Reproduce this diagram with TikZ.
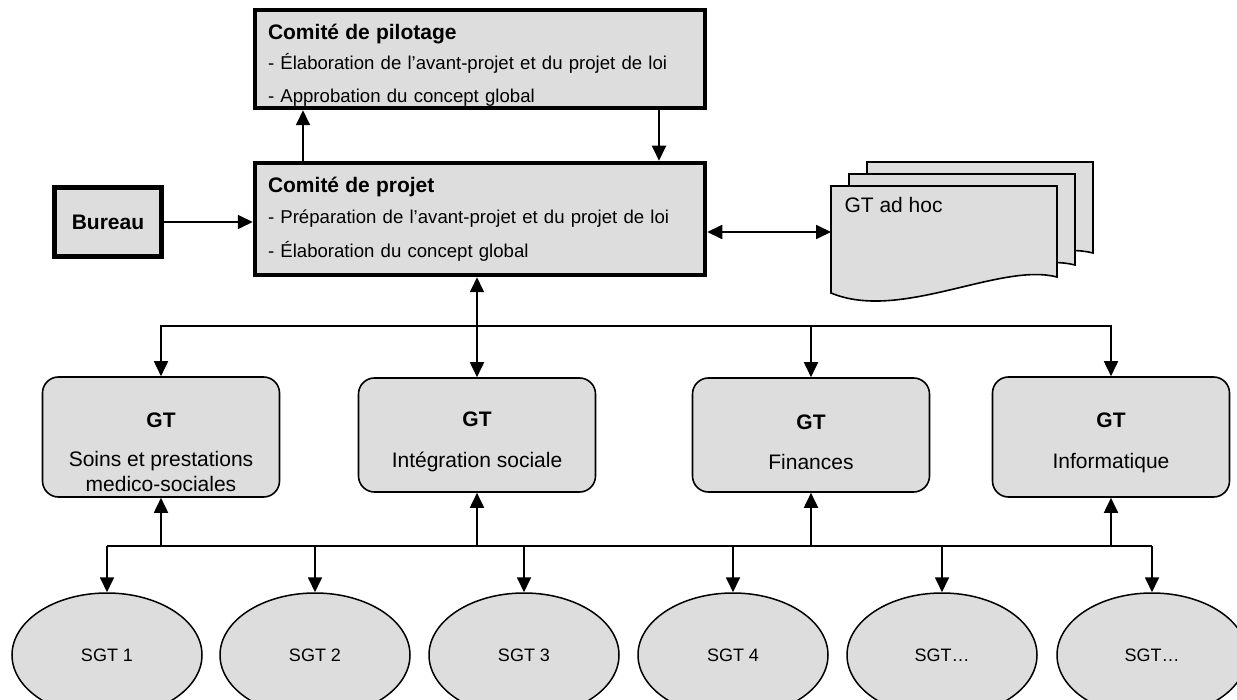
\documentclass[tikz,border=0pt]{standalone}
\usepackage{fontspec}
\setmainfont{Liberation Sans}
\usepackage{xcolor}
\usetikzlibrary{shapes.geometric, arrows.meta}
\definecolor{boxgrey}{HTML}{DDDDDD}
\newcommand{\topgap}[1]{\rule{0pt}{#1}}

\begin{document}
\begin{tikzpicture}[
    x=1pt, y=-1pt,
    comite/.style = {rectangle, draw, line width=4.5pt, fill=boxgrey,
                     minimum width=450pt, text width=424pt, align=left,
                     font=\fontsize{18.6}{23}\selectfont},
    bureaubox/.style = {rectangle, draw, line width=4.5pt, fill=boxgrey,
                     minimum width=107pt, minimum height=69pt,
                     font=\fontsize{21}{25}\selectfont\bfseries},
    gt/.style     = {rectangle, draw, rounded corners=16pt, line width=1.6pt,
                     fill=boxgrey, minimum width=237pt, inner ysep=0pt,
                     align=center, font=\fontsize{21}{25}\selectfont},
    sgt/.style    = {ellipse, draw, line width=1.5pt, fill=boxgrey,
                     minimum width=190pt, minimum height=124pt,
                     font=\fontsize{18}{22}\selectfont},
    doc/.style    = {draw, line width=1.6pt, fill=boxgrey},
    arr/.style    = {-{Triangle[width=14pt,length=15pt]}, line width=1.8pt},
    arrs/.style   = {{Triangle[width=14pt,length=15pt]}-{Triangle[width=14pt,length=15pt]},
                     line width=1.8pt},
    bus/.style    = {line width=1.8pt}
]
  \useasboundingbox (0,0) rectangle (1237,700);
  \clip (0,0) rectangle (1237,700);

  \node[comite, minimum height=98pt, inner ysep=0pt,
        text height=29.5pt, text depth=68.5pt] (pilot) at (480,59)
    {{\fontsize{21}{25}\selectfont\bfseries Comité de pilotage}\\[7.5pt]
     - Élaboration de l’avant-projet et du projet de loi\\[10pt]
     - Approbation du concept global};
  \node[comite, minimum height=112pt] (projet) at (480,219)
    {{\fontsize{21}{25}\selectfont\bfseries Comité de projet}\\[8pt]
     - Préparation de l’avant-projet et du projet de loi\\[11pt]
     - Élaboration du concept global};
  \node[bureaubox] (bureau) at (108,222) {Bureau};

  % ad hoc groups, stacked sheets
  \foreach \dx/\dy in {36/-24, 18/-12, 0/0}
    \draw[doc, shift={(\dx,\dy)}] (831,186) -- (1057,186) -- (1057,277)
      .. controls (1000,262) and (900,322) .. (831,293) -- cycle;
  \node[anchor=west, font=\fontsize{21}{25}\selectfont] (adhoc) at (841,205) {GT ad hoc};
  \coordinate (adhocin) at (831,232);

  \node[gt, minimum height=120pt] (gt1) at (161,437)
    {\topgap{46pt}\textbf{GT}\\[14pt] Soins et prestations\\ medico-sociales};
  \node[gt, minimum height=114pt] (gt2) at (477,435)
    {\topgap{29pt}\textbf{GT}\\[16pt] Intégration sociale};
  \node[gt, minimum height=114pt] (gt3) at (811,435)
    {\topgap{29pt}\textbf{GT}\\[15pt] Finances};
  \node[gt, minimum height=120pt] (gt4) at (1111,437)
    {\topgap{26pt}\textbf{GT}\\[16pt] Informatique};

  \node[sgt] (sgt1) at (107,655) {SGT 1};
  \node[sgt] (sgt2) at (315,655) {SGT 2};
  \node[sgt] (sgt3) at (524,655) {SGT 3};
  \node[sgt] (sgt4) at (733,655) {SGT 4};
  \node[sgt] (sgt5) at (942,655) {SGT…};
  \node[sgt] (sgt6) at (1152,655) {SGT…};

  \draw[arr] ([xshift=-177pt]projet.north) -- ([xshift=-177pt]pilot.south);
  \draw[arr] ([xshift=179pt]pilot.south) -- ([xshift=179pt]projet.north);
  \draw[arr] (bureau.east) -- (bureau.east -| projet.west);
  \draw[arrs] (projet.east |- adhocin) -- (adhocin);

  % upper bus
  \coordinate (tbus) at (0,326);
  \draw[arrs] (gt2.north |- projet.south) -- (gt2.north);
  \draw[arr] (tbus -| gt2.north) -| (gt1.north);
  \draw[arr] (tbus -| gt2.north) -| (gt4.north);
  \draw[arr] (tbus -| gt3.north) -- (gt3.north);

  % lower bus
  \coordinate (bbus) at (0,546);
  \draw[bus] (bbus -| sgt1.north) -- (bbus -| sgt6.north);
  \foreach \g in {1,...,4}
    \draw[arr] (bbus -| gt\g.south) -- (gt\g.south);
  \foreach \s in {1,...,6}
    \draw[arr] (bbus -| sgt\s.north) -- (sgt\s.north);
\end{tikzpicture}
\end{document}
